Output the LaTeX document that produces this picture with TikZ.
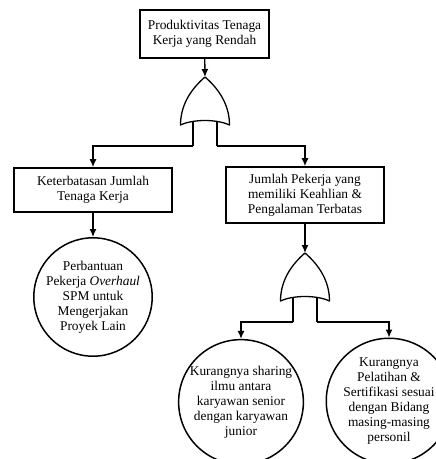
\documentclass[tikz,border=0pt]{standalone}
\usepackage{fontspec}
\setmainfont{Liberation Serif}
\usetikzlibrary{arrows.meta}
\tikzset{
>={Latex[width=7pt,length=8pt]},
	event/.style={
		rectangle,
		sharp corners,
		fill=white,
		draw=black, line width=1.6pt,
		inner sep=0pt,
		font=\fontsize{13.4}{15}\selectfont,
		align=center},
	basic/.style={
		circle,
		draw=black, line width=1.5pt,
		inner sep=0pt,
		minimum size=114pt,
		font=\fontsize{13.4}{15}\selectfont,
		align=center},
	link/.style={->, line width=1.3pt},
	gateline/.style={line width=1.3pt, line join=round},
	orgate/.pic={
		\draw[gateline] (0,0) .. controls (14,12) and (24.5,28) .. (24.5,48)
			.. controls (12,42) and (-12,42) .. (-24.5,48)
			.. controls (-24.5,28) and (-14,12) .. (0,0) -- cycle;
		\coordinate (-top) at (0,0);
		\draw[gateline] (-12,44) -- (-12,69) coordinate (-l);
		\draw[gateline] (12,44) -- (12,69) coordinate (-r);
	}
}

\begin{document}
\begin{tikzpicture}[x=1pt, y=-1pt]
\useasboundingbox (0,0) rectangle (436,459);
% kejadian puncak
\node[event, minimum width=129pt, minimum height=48pt] (top) at (204.5,34) {Produktivitas Tenaga\\Kerja yang Rendah};
\pic (g1) at (205,77) {orgate};
% level kedua
\node[event, minimum width=158pt, minimum height=44pt] (tk) at (93,190) {Keterbatasan Jumlah\\Tenaga Kerja};
\node[event, minimum width=158pt, minimum height=56pt] (ahli) at (305,195) {Jumlah Pekerja yang\\memiliki Keahlian \&\\Pengalaman Terbatas};
\pic (g2) at (305,253) {orgate};
% kejadian dasar
\node[basic] (bantu) at (93,297) {Perbantuan\\Pekerja \textit{Overhaul}\\SPM untuk\\Mengerjakan\\Proyek Lain};
\node[basic] (sharing) at (241,402) {Kurangnya sharing\\ilmu antara\\karyawan senior\\dengan karyawan\\junior};
\node[basic, minimum size=112pt] (latih) at (389,401) {Kurangnya\\Pelatihan \&\\Sertifikasi sesuai\\dengan Bidang\\masing-masing\\personil};
\draw[link] (top) -- (g1-top);
\draw[link] (g1-l) -| (tk.north);
\draw[link] (g1-r) -| (ahli.north);
\draw[link] (tk) -- (bantu);
\draw[link] (ahli) -- (g2-top);
\draw[link] (g2-l) -| (sharing.north);
\draw[link] (g2-r) -| (latih.north);
\end{tikzpicture}
\end{document}
